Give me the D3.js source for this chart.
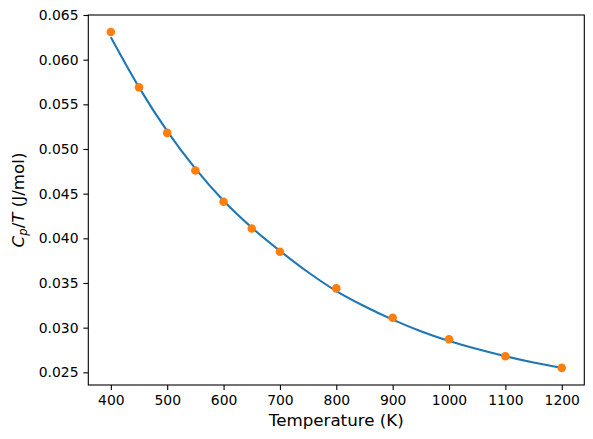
<!DOCTYPE html>
<html>
<head>
<meta charset="utf-8">
<script src="https://cdn.jsdelivr.net/npm/d3@7"></script>
<style>
  body { margin: 0; background: #fff; }
  text { font-family: "DejaVu Sans", sans-serif; fill: #000; }
</style>
</head>
<body>
<svg id="chart" width="593" height="439"></svg>
<script>
// Measured points (orange markers)
const tempPoints = [400, 450, 500, 550, 600, 650, 700, 800, 900, 1000, 1100, 1200]
const cpOverT = [0.0631, 0.0569, 0.0518, 0.0476, 0.0441, 0.0411, 0.0385, 0.0344, 0.0311, 0.0287, 0.0268, 0.0255]

// Fitted curve (blue line)
const tempFit = [400, 450, 500, 550, 600, 650, 700, 750, 800, 850, 900, 950, 1000, 1050, 1100, 1150, 1200]
const cpFit = [0.0625, 0.0569, 0.0520, 0.0478, 0.0442, 0.0412, 0.0386, 0.0362, 0.0341, 0.0324, 0.0309, 0.0296, 0.0285, 0.0276, 0.0268, 0.0261, 0.0255]

const xTicks = [400, 500, 600, 700, 800, 900, 1000, 1100, 1200]
const yTicks = [0.025, 0.030, 0.035, 0.040, 0.045, 0.050, 0.055, 0.060, 0.065]

const svg = d3.select("#chart")
const margin = {left: 88.3, right: 593 - 584.3, top: 15, bottom: 439 - 385}
const width = 593 - margin.left - margin.right
const height = 439 - margin.top - margin.bottom

const g = svg.append("g").attr("transform", `translate(${margin.left},${margin.top})`)

const x = d3.scaleLinear().domain([360, 1240]).range([0, width])
const y = d3.scaleLinear().domain([0.02358, 0.0650]).range([height, 0])

// Axes
const xAxis = g.append("g")
  .attr("transform", `translate(0,${height})`)
  .call(d3.axisBottom(x).tickValues(xTicks).tickSize(4.9).tickPadding(4.9).tickFormat(d3.format("d")))
const yAxis = g.append("g")
  .call(d3.axisLeft(y).tickValues(yTicks).tickSize(4.9).tickPadding(4.9).tickFormat(d3.format(".3f")))

for (const ax of [xAxis, yAxis]) {
  ax.select(".domain").remove()
  ax.selectAll(".tick line").attr("stroke", "#000").attr("stroke-width", 1.1)
  ax.selectAll(".tick text").style("font-size", "13.9px").attr("fill", "#000")
}

// Frame (all four spines)
g.append("rect")
  .attr("width", width).attr("height", height)
  .attr("fill", "none").attr("stroke", "#000").attr("stroke-width", 1.1)

// Fit line
const line = d3.line()
  .x((d, i) => x(tempFit[i]))
  .y(d => y(d))
  .curve(d3.curveMonotoneX)

g.append("path")
  .datum(cpFit)
  .attr("d", line)
  .attr("fill", "none")
  .attr("stroke", "#1f77b4")
  .attr("stroke-width", 2.1)

// Data points
g.selectAll("circle.pt")
  .data(cpOverT)
  .enter()
  .append("circle")
  .attr("class", "pt")
  .attr("cx", (d, i) => x(tempPoints[i]))
  .attr("cy", d => y(d))
  .attr("r", 4.3)
  .attr("fill", "#ff7f0e")

// Axis labels
svg.append("text")
  .attr("x", margin.left + width / 2)
  .attr("y", 426)
  .attr("text-anchor", "middle")
  .style("font-size", "16.7px")
  .text("Temperature (K)")

const yl = svg.append("text")
  .attr("transform", `translate(24,${margin.top + height / 2}) rotate(-90)`)
  .attr("text-anchor", "middle")
  .style("font-size", "16.7px")
yl.append("tspan").style("font-style", "italic").text("C")
yl.append("tspan").style("font-style", "italic").style("font-size", "11.7px").attr("dy", 3).text("p")
yl.append("tspan").attr("dy", -3).text("/")
yl.append("tspan").style("font-style", "italic").text("T")
yl.append("tspan").text(" (J/mol)")
</script>
</body>
</html>
